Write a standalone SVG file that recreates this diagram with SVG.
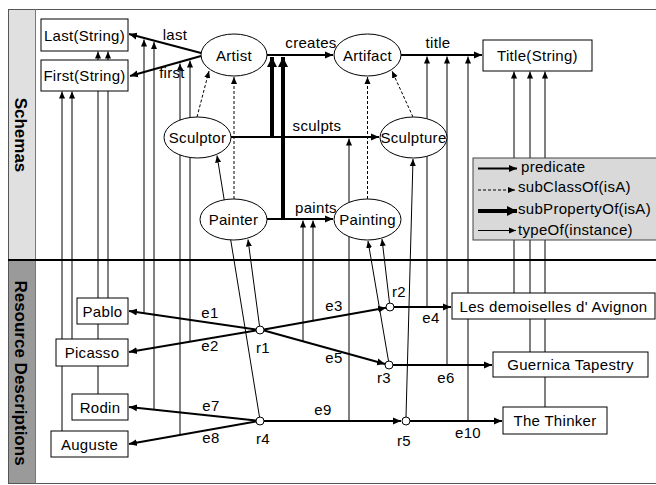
<svg xmlns="http://www.w3.org/2000/svg" width="656" height="485" viewBox="0 0 656 485">
<defs>
<marker id="ap" markerUnits="userSpaceOnUse" markerWidth="9" markerHeight="8" refX="8" refY="4" orient="auto"><path d="M0,0.5 L8,4 L0,7.5 z" fill="#000"/></marker>
<marker id="at" markerUnits="userSpaceOnUse" markerWidth="8" markerHeight="7" refX="7" refY="3.5" orient="auto"><path d="M0,0.5 L7,3.5 L0,6.5 z" fill="#000"/></marker>
<marker id="as" markerUnits="userSpaceOnUse" markerWidth="11" markerHeight="11" refX="10" refY="5.5" orient="auto"><path d="M0,0.5 L10,5.5 L0,10.5 z" fill="#000"/></marker>
</defs>
<style>
.t{font-family:"Liberation Sans",Arial,sans-serif;font-size:15px;fill:#000;letter-spacing:0.3px}
.m{text-anchor:middle}
.b{font-weight:bold;font-size:17px;letter-spacing:0}
.p{stroke:#000;stroke-width:2;fill:none;marker-end:url(#ap)}
.i{stroke:#000;stroke-width:1;fill:none;marker-end:url(#at)}
.s{stroke:#000;stroke-width:4;fill:none;marker-end:url(#as)}
.d{stroke:#000;stroke-width:1;stroke-dasharray:3 2;fill:none;marker-end:url(#at)}
.n{fill:#fff;stroke:#000;stroke-width:1}
.r{fill:#fff;stroke:#000;stroke-width:1}
</style>
<rect x="0" y="0" width="656" height="485" fill="#fff"/>
<g id="frame">
<rect x="8" y="9" width="28" height="251" fill="#e0e0e0"/>
<rect x="8" y="260" width="28" height="224" fill="#9a9a9a"/>
<rect x="8.5" y="9.5" width="660" height="474" fill="none" stroke="#555"/>
<line x1="35.5" y1="9" x2="35.5" y2="484" stroke="#777"/>
<line x1="8" y1="260" x2="656" y2="260" stroke="#000" stroke-width="2"/>
<text class="t m b" transform="translate(15,135) rotate(90)">Schemas</text>
<text class="t m b" transform="translate(15,373) rotate(90)">Resource Descriptions</text>
</g>
<g id="connectors">
<path class="p" d="M267,55 L333,55"/>
<path class="p" d="M401,55 L482,55"/>
<path class="p" d="M201,53 L129,34"/>
<path class="p" d="M201,56 L130,76"/>
<path class="p" d="M231,137 L379,137"/>
<path class="p" d="M267,219 L333,219"/>
<path class="s" d="M272,138 L272,57"/>
<path class="s" d="M283,220 L283,57"/>
<path class="d" d="M197,117 L209,71"/>
<path class="d" d="M234,199 L234,77"/>
<path class="d" d="M367.5,199 L367.5,77"/>
<path class="d" d="M413,117 L392,71"/>
<path class="i" d="M259.5,326 L248,239.5"/>
<path class="i" d="M259.5,417 L217,155.5"/>
<path class="i" d="M389.5,303 L382,239"/>
<path class="i" d="M388.5,361 L368,241"/>
<path class="i" d="M406,417 L413,159"/>
<path class="i" d="M62,431 L62,91.5"/>
<path class="i" d="M72,339 L72,91.5"/>
<path class="i" d="M98,394 L98,51.5"/>
<path class="i" d="M108,298 L108,51.5"/>
<path class="i" d="M514,293 L514,71.5"/>
<path class="i" d="M530,352 L530,71.5"/>
<path class="i" d="M545,407 L545,71.5"/>
<path class="i" d="M144,313.3 L144,39.5"/>
<path class="i" d="M154,409.7 L154,42"/>
<path class="i" d="M180,434.9 L180,63.5"/>
<path class="i" d="M190,341.6 L190,60.5"/>
<path class="i" d="M303,341.3 L303,220.5"/>
<path class="i" d="M313,320.8 L313,220.5"/>
<path class="i" d="M349,421 L349,138.5"/>
<path class="i" d="M427,307 L427,56.5"/>
<path class="i" d="M447,365 L447,56.5"/>
<path class="i" d="M468,421 L468,56.5"/>
<path class="p" d="M256,329.5 L129,311"/>
<path class="p" d="M256,330.5 L129,352"/>
<path class="p" d="M264,329.5 L386,307.8"/>
<path class="p" d="M264,330.5 L385,364"/>
<path class="p" d="M394,307 L451,307"/>
<path class="p" d="M393,365 L492,365"/>
<path class="p" d="M256,420.5 L129,407"/>
<path class="p" d="M256,421.5 L129,444"/>
<path class="p" d="M264,421 L401,421"/>
<path class="p" d="M410,421 L502,421"/>
<text class="t m" x="175" y="40">last</text>
<text class="t m" x="172" y="78">first</text>
<text class="t m" x="311" y="48">creates</text>
<text class="t m" x="438" y="48">title</text>
<text class="t m" x="317" y="131">sculpts</text>
<text class="t m" x="316" y="213">paints</text>
<text class="t m" x="210" y="318">e1</text>
<text class="t m" x="210" y="351">e2</text>
<text class="t m" x="334" y="311">e3</text>
<text class="t m" x="431" y="323">e4</text>
<text class="t m" x="334" y="363">e5</text>
<text class="t m" x="446" y="383">e6</text>
<text class="t m" x="211" y="411">e7</text>
<text class="t m" x="211" y="443">e8</text>
<text class="t m" x="323" y="415">e9</text>
<text class="t m" x="468" y="438">e10</text>
</g>
<g id="Last"><rect class="n" x="41" y="19" width="87" height="32"/><text class="t m" x="84.5" y="40.5">Last(String)</text></g>
<g id="First"><rect class="n" x="41" y="60" width="87" height="31"/><text class="t m" x="84.5" y="81">First(String)</text></g>
<g id="Title"><rect class="n" x="483" y="40" width="109" height="31"/><text class="t m" x="537.5" y="61">Title(String)</text></g>
<g id="Artist"><ellipse class="n" cx="234" cy="55" rx="33" ry="21"/><text class="t m" x="234" y="60.5">Artist</text></g>
<g id="Artifact"><ellipse class="n" cx="367.5" cy="55" rx="33.5" ry="21"/><text class="t m" x="367.5" y="60.5">Artifact</text></g>
<g id="Sculptor"><ellipse class="n" cx="197.5" cy="137.5" rx="33.5" ry="20.5"/><text class="t m" x="197.5" y="143">Sculptor</text></g>
<g id="Sculpture"><ellipse class="n" cx="413.5" cy="137.5" rx="33.5" ry="20.5"/><text class="t m" x="413.5" y="143">Sculpture</text></g>
<g id="Painter"><ellipse class="n" cx="233.5" cy="219.5" rx="33.5" ry="20.5"/><text class="t m" x="233.5" y="225">Painter</text></g>
<g id="Painting"><ellipse class="n" cx="367.5" cy="219.5" rx="33.5" ry="20.5"/><text class="t m" x="367.5" y="225">Painting</text></g>
<g id="Pablo"><rect class="n" x="77" y="298" width="51" height="26"/><text class="t m" x="102.5" y="316.5">Pablo</text></g>
<g id="Picasso"><rect class="n" x="56" y="339" width="72" height="27"/><text class="t m" x="92" y="358">Picasso</text></g>
<g id="Rodin"><rect class="n" x="72" y="394" width="56" height="26"/><text class="t m" x="100" y="412.5">Rodin</text></g>
<g id="Auguste"><rect class="n" x="51" y="431" width="77" height="26"/><text class="t m" x="89.5" y="449.5">Auguste</text></g>
<g id="Demoiselles"><rect class="n" x="452" y="293" width="203" height="26"/><text class="t m" x="553.5" y="311.5">Les demoiselles d' Avignon</text></g>
<g id="Guernica"><rect class="n" x="493" y="352" width="155" height="25"/><text class="t m" x="570.5" y="370">Guernica Tapestry</text></g>
<g id="Thinker"><rect class="n" x="503" y="407" width="104" height="27"/><text class="t m" x="555" y="426">The Thinker</text></g>
<g id="r1"><circle class="r" cx="260" cy="330" r="4"/><text class="t m" x="263" y="353">r1</text></g>
<g id="r2"><circle class="r" cx="390" cy="307" r="4"/><text class="t m" x="399" y="297">r2</text></g>
<g id="r3"><circle class="r" cx="389" cy="365" r="4"/><text class="t m" x="384" y="383">r3</text></g>
<g id="r4"><circle class="r" cx="260" cy="421" r="4"/><text class="t m" x="263" y="444">r4</text></g>
<g id="r5"><circle class="r" cx="406" cy="421" r="4"/><text class="t m" x="404" y="446">r5</text></g>
<g id="legend">
<rect x="473" y="158" width="185" height="82" fill="#d9d9d9" stroke="#444"/>
<line x1="478" y1="168.5" x2="517" y2="168.5" stroke="#000" stroke-width="2" marker-end="url(#ap)"/>
<line x1="478" y1="190" x2="515" y2="190" stroke="#000" stroke-width="1" stroke-dasharray="3 2" marker-end="url(#at)"/>
<line x1="478" y1="211" x2="517" y2="211" stroke="#000" stroke-width="4" marker-end="url(#as)"/>
<line x1="478" y1="230.5" x2="516" y2="230.5" stroke="#000" stroke-width="1" marker-end="url(#at)"/>
<text class="t" x="521" y="172">predicate</text>
<text class="t" x="518" y="192">subClassOf(isA)</text>
<text class="t" x="518" y="214">subPropertyOf(isA)</text>
<text class="t" x="518" y="235">typeOf(instance)</text>
</g>
</svg>
